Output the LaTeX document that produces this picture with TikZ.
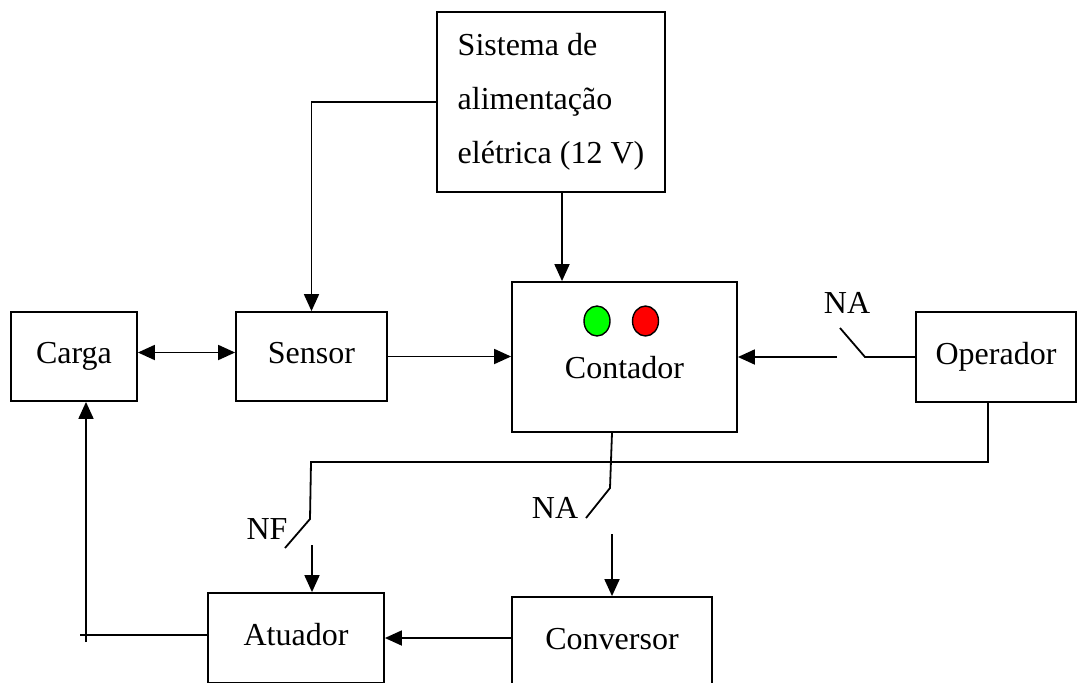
\documentclass[tikz,border=0pt]{standalone}
\usepackage{fontspec}
\setmainfont{Liberation Serif}
\usetikzlibrary{arrows.meta,shapes.geometric}

\newcommand{\bigtext}{\fontsize{32}{38}\selectfont}

\tikzset{
  >={Triangle[length=17pt,width=15pt]},
  frame/.style={draw, line width=1.8pt, inner sep=0pt, font=\bigtext},
  block/.style={frame, text height=22pt, text depth=8pt},
  wire/.style={line width=1.8pt},
  flow/.style={wire, ->},
  lamp/.style={draw, line width=1.4pt, ellipse, minimum width=26pt, minimum height=30pt, inner sep=0pt},
  tag/.style={font=\bigtext, inner sep=0pt}
}

\begin{document}
\begin{tikzpicture}[x=1pt,y=-1pt]
  % Fix the page to the reference size
  \useasboundingbox (0,0) rectangle (1084,683);
  \clip (0,0) rectangle (1084,682);

  % Blocks
  \node[frame, align=left, minimum width=228pt, minimum height=180pt,
        font=\fontsize{32}{54}\selectfont] (sistema) at (551,102)
        {Sistema de\\alimentação\\elétrica (12 V)};
  \node[block, minimum width=126pt, minimum height=89pt] (carga)     at (74,356.5)  {Carga};
  \node[block, minimum width=151pt, minimum height=89pt] (sensor)    at (311.5,356.5) {Sensor};
  \node[frame, minimum width=225pt, minimum height=150pt] (contador) at (624.5,357) {};
  \node[tag] (contador text) at (624.5,368) {Contador};
  \node[block, minimum width=160pt, minimum height=90pt] (operador)  at (996,357)   {Operador};
  \node[block, minimum width=176pt, minimum height=90pt] (atuador)   at (296,638)   {Atuador};
  \node[block, minimum width=200pt, minimum height=90pt] (conversor) at (612,642)   {Conversor};

  % Indicator lamps on the counter
  \node[lamp, fill=green] (lamp green) at (597,321) {};
  \node[lamp, fill=red]   (lamp red)   at (645.5,321) {};

  % Power supply feeds the sensor and the counter
  \draw[flow] (sistema.west) -| (sensor.north);
  \coordinate (feed) at ([xshift=11pt]sistema.south);
  \draw[flow] (feed) -- (feed |- contador.north);

  % Load and sensor, sensor to counter
  \draw[wire, <->] ([yshift=4pt]carga.east) -- ([yshift=4pt]sensor.west);
  \draw[flow] (sensor.east) -- (sensor.east -| contador.west);

  % Operator NA switch into the counter
  \coordinate (na op fixed) at (865,357);
  \coordinate (na op blade) at (840,328);
  \coordinate (na op free)  at (837,357);
  \draw[wire] (operador.west) -- (na op fixed) -- (na op blade);
  \draw[flow] (na op free) -- (na op free -| contador.east);
  \node[tag] (na op label) at (847,303) {NA};

  % Counter NA switch down to the converter
  \coordinate (na ct top)   at ([xshift=-12.5pt]contador.south);
  \coordinate (na ct fixed) at (610,488);
  \coordinate (na ct blade) at (586,518);
  \coordinate (na ct out)   at (612,534);
  \draw[wire] (na ct top) -- (na ct fixed) -- (na ct blade);
  \draw[flow] (na ct out) -- (na ct out |- conversor.north);
  \node[tag] (na ct label) at (555,508) {NA};

  % Operator NF switch down to the actuator
  \coordinate (nf top)   at (311,462);
  \coordinate (nf fixed) at (310,519);
  \coordinate (nf blade) at (285,548);
  \coordinate (nf out)   at (312,545);
  \draw[wire] ([xshift=-8pt]operador.south) |- (nf top) -- (nf fixed) -- (nf blade);
  \draw[flow] (nf out) -- (nf out |- atuador.north);
  \node[tag] (nf label) at (267,529) {NF};

  % Converter to actuator, actuator back to the load
  \draw[flow] ([yshift=4pt]conversor.west) -- ([yshift=4pt]conversor.west -| atuador.east);
  \coordinate (fb corner) at (80,635);
  \coordinate (fb foot)   at (86,642);
  \draw[wire] (atuador.west |- fb corner) -- (fb corner);
  \draw[flow] (fb foot) -- (fb foot |- carga.south);
\end{tikzpicture}
\end{document}
